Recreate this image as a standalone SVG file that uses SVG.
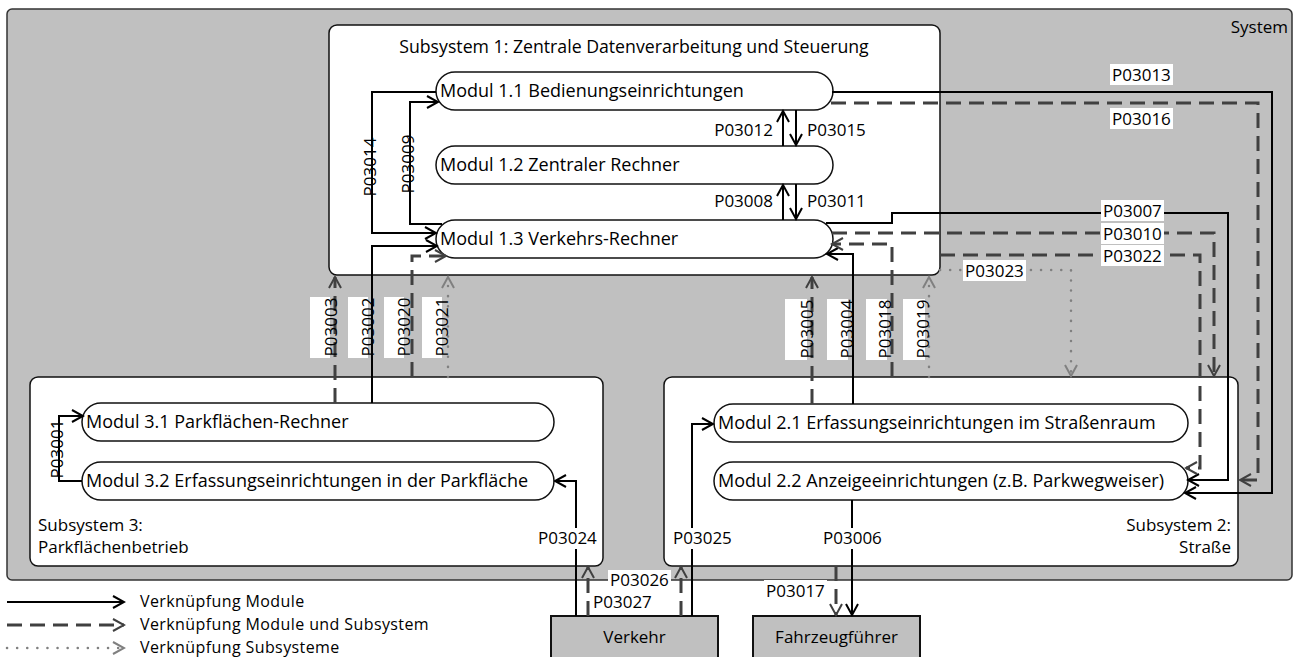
<svg xmlns="http://www.w3.org/2000/svg" width="1301" height="657" viewBox="0 0 1301 657">
  <style>
    text { font-family: "Open Sans", "Noto Sans", "Liberation Sans", sans-serif; font-size: 17px; fill: #000; }
    .mod { font-size: 18px; }
    .big { font-size: 17.7px; }
    .leg { font-size: 16px; letter-spacing: 0.4px; }
    .system { fill: #c0c0c0; stroke: #333; stroke-width: 1.5; }
    .subsys { fill: #fff; stroke: #111; stroke-width: 1.5; }
    .module { fill: #fff; stroke: #111; stroke-width: 1.5; }
    .actor { fill: #c0c0c0; stroke: #111; stroke-width: 2; }
    .bg { fill: #fff; }
    .solid { fill: none; stroke: #000; stroke-width: 2; marker-end: url(#arrSolid); }
    .dashed { fill: none; stroke: #404040; stroke-width: 3; stroke-dasharray: 15 8; marker-end: url(#arrDashed); }
    .dotted { fill: none; stroke: #808080; stroke-width: 2.5; stroke-dasharray: 0.1 10; stroke-linecap: round; marker-end: url(#arrDotted); }
    .mid { text-anchor: middle; }
    .end { text-anchor: end; }
  </style>
  <defs>
    <marker id="arrSolid" markerUnits="userSpaceOnUse" markerWidth="14" markerHeight="14" viewBox="0 0 14 14" refX="12" refY="7" orient="auto">
      <path d="M1,1 L12,7 L1,13" fill="none" stroke="#000" stroke-width="2"/>
    </marker>
    <marker id="arrDashed" markerUnits="userSpaceOnUse" markerWidth="14" markerHeight="14" viewBox="0 0 14 14" refX="12" refY="7" orient="auto">
      <path d="M1,1 L12,7 L1,13" fill="none" stroke="#404040" stroke-width="2"/>
    </marker>
    <marker id="arrDotted" markerUnits="userSpaceOnUse" markerWidth="14" markerHeight="14" viewBox="0 0 14 14" refX="12" refY="7" orient="auto">
      <path d="M1,1 L12,7 L1,13" fill="none" stroke="#808080" stroke-width="2"/>
    </marker>
  </defs>

  <rect width="1301" height="657" fill="#fff"/>

  <!-- outer system frame -->
  <g id="system">
    <rect class="system" x="7" y="9" width="1285" height="571" rx="5"/>
    <text class="end" x="1288" y="33">System</text>
  </g>

  <!-- Subsystem 1 -->
  <g id="subsystem1">
    <rect class="subsys" x="329" y="25" width="611" height="250" rx="8"/>
    <text class="mid big" x="634" y="53">Subsystem 1: Zentrale Datenverarbeitung und Steuerung</text>
  </g>
  <g id="modul11">
    <rect class="module" x="436" y="72" width="397" height="38" rx="19"/>
    <text class="mod" x="440" y="97">Modul 1.1 Bedienungseinrichtungen</text>
  </g>
  <g id="modul12">
    <rect class="module" x="436" y="146" width="397" height="38" rx="19"/>
    <text class="mod" x="440" y="171">Modul 1.2 Zentraler Rechner</text>
  </g>
  <g id="modul13">
    <rect class="module" x="436" y="220" width="397" height="38" rx="19"/>
    <text class="mod" x="440" y="245">Modul 1.3 Verkehrs-Rechner</text>
  </g>

  <!-- Subsystem 3 -->
  <g id="subsystem3">
    <rect class="subsys" x="30" y="377" width="573" height="189" rx="8"/>
    <text x="38" y="531">Subsystem 3:</text>
    <text x="38" y="553">Parkflächenbetrieb</text>
  </g>
  <g id="modul31">
    <rect class="module" x="82" y="403" width="472" height="38" rx="19"/>
    <text class="mod" x="86" y="428">Modul 3.1 Parkflächen-Rechner</text>
  </g>
  <g id="modul32">
    <rect class="module" x="82" y="462" width="472" height="38" rx="19"/>
    <text class="mod" x="86" y="487">Modul 3.2 Erfassungseinrichtungen in der Parkfläche</text>
  </g>

  <!-- Subsystem 2 -->
  <g id="subsystem2">
    <rect class="subsys" x="664" y="377" width="574" height="189" rx="8"/>
    <text class="end" x="1231" y="531">Subsystem 2:</text>
    <text class="end" x="1231" y="553">Straße</text>
  </g>
  <g id="modul21">
    <rect class="module" x="714" y="404" width="474" height="38" rx="19"/>
    <text class="mod" x="718" y="429">Modul 2.1 Erfassungseinrichtungen im Straßenraum</text>
  </g>
  <g id="modul22">
    <rect class="module" x="714" y="462" width="474" height="38" rx="19"/>
    <text class="mod" x="718" y="487">Modul 2.2 Anzeigeeinrichtungen (z.B. Parkwegweiser)</text>
  </g>

  <!-- external actors -->
  <g id="verkehr">
    <rect class="actor" x="551" y="616" width="167" height="60"/>
    <text class="mid" x="634.5" y="643">Verkehr</text>
  </g>
  <g id="fahrzeugfuehrer">
    <rect class="actor" x="753" y="616" width="167" height="60"/>
    <text class="mid" x="836.5" y="643">Fahrzeugführer</text>
  </g>

  <!-- connectors -->
  <g id="connectors">
    <!-- inside subsystem 1 -->
    <path class="solid" d="M436,92 H372 V233 H436"/>
    <path class="solid" d="M442,224 H410 V102 H438"/>
    <path class="solid" d="M783,146 V111"/>
    <path class="solid" d="M796,110 V145"/>
    <path class="solid" d="M783,220 V185"/>
    <path class="solid" d="M796,184 V219"/>

    <!-- subsystem 3 to subsystem 1 -->
    <path class="dashed" d="M335,403 V277"/>
    <path class="solid" d="M372,403 V246 H437"/>
    <path class="dashed" d="M412,377 V256 H446"/>
    <path class="dotted" d="M448,377 V277"/>

    <!-- subsystem 2 to subsystem 1 -->
    <path class="dashed" d="M812,404 V277"/>
    <path class="solid" d="M853,404 V254 H827"/>
    <path class="dashed" d="M892,377 V244 H832"/>
    <path class="dotted" d="M929,377 V277"/>

    <!-- subsystem 1 to subsystem 2 -->
    <path class="solid" d="M832,92 H1272 V493 H1185"/>
    <path class="dashed" d="M831,103 H1258 V480 H1240"/>
    <path class="solid" d="M826,223 H892 V213 H1228 V480 H1188"/>
    <path class="dashed" d="M832,233 H1214 V376"/>
    <path class="dashed" d="M940,255 H1200 V468 H1186"/>
    <path class="dotted" d="M940,270 H1071 V376"/>

    <!-- inside subsystem 3 -->
    <path class="solid" d="M82,481 H59 V416 H83"/>

    <!-- traffic and driver -->
    <path class="solid" d="M576,616 V481 H555"/>
    <path class="dashed" d="M588,616 V567"/>
    <path class="dashed" d="M681,616 V567"/>
    <path class="solid" d="M692,616 V424 H713"/>
    <path class="solid" d="M852,500 V615"/>
    <path class="dashed" d="M836,566 V615"/>
  </g>

  <!-- connector labels -->
  <g id="labels">
    <text class="end" x="773" y="136">P03012</text>
    <text x="807" y="136">P03015</text>
    <text class="end" x="773" y="207">P03008</text>
    <text x="807" y="207">P03011</text>

    <text transform="translate(376,167) rotate(-90)" class="mid">P03014</text>
    <text transform="translate(414,164) rotate(-90)" class="mid">P03009</text>

    <rect class="bg" x="310" y="297" width="20" height="61"/>
    <rect class="bg" x="348" y="297" width="20" height="61"/>
    <rect class="bg" x="384" y="297" width="20" height="61"/>
    <rect class="bg" x="422" y="297" width="20" height="61"/>
    <text transform="translate(337,327) rotate(-90)" class="mid">P03003</text>
    <text transform="translate(374,327) rotate(-90)" class="mid">P03002</text>
    <text transform="translate(410,327) rotate(-90)" class="mid">P03020</text>
    <text transform="translate(448,327) rotate(-90)" class="mid">P03021</text>

    <rect class="bg" x="785" y="299" width="22" height="61"/>
    <rect class="bg" x="827" y="299" width="21" height="61"/>
    <rect class="bg" x="866" y="299" width="21" height="61"/>
    <rect class="bg" x="903" y="299" width="22" height="61"/>
    <text transform="translate(813,329) rotate(-90)" class="mid">P03005</text>
    <text transform="translate(853,329) rotate(-90)" class="mid">P03004</text>
    <text transform="translate(891,329) rotate(-90)" class="mid">P03018</text>
    <text transform="translate(929,329) rotate(-90)" class="mid">P03019</text>

    <text transform="translate(63,449) rotate(-90)" class="mid">P03001</text>

    <rect class="bg" x="1110" y="64" width="63" height="21"/>
    <text x="1112" y="81">P03013</text>
    <rect class="bg" x="1110" y="108" width="63" height="21"/>
    <text x="1112" y="125">P03016</text>
    <rect class="bg" x="1101" y="200" width="63" height="21"/>
    <text x="1103" y="217">P03007</text>
    <rect class="bg" x="1101" y="223" width="63" height="21"/>
    <text x="1103" y="240">P03010</text>
    <rect class="bg" x="1101" y="245" width="63" height="21"/>
    <text x="1103" y="262">P03022</text>
    <rect class="bg" x="963" y="260" width="63" height="21"/>
    <text x="965" y="277">P03023</text>

    <rect class="bg" x="536" y="528" width="64" height="21"/>
    <text x="538" y="544">P03024</text>
    <rect class="bg" x="671" y="528" width="64" height="21"/>
    <text x="673" y="544">P03025</text>
    <rect class="bg" x="821" y="528" width="64" height="21"/>
    <text x="823" y="544">P03006</text>
    <rect class="bg" x="608" y="570" width="63" height="20"/>
    <text x="610" y="586">P03026</text>
    <rect class="bg" x="591" y="592" width="63" height="20"/>
    <text x="593" y="608">P03027</text>
    <rect class="bg" x="764" y="580" width="63" height="20"/>
    <text x="766" y="597">P03017</text>
  </g>

  <!-- legend -->
  <g id="legend">
    <path class="solid" d="M7,602 H124"/>
    <text class="leg" x="140" y="607">Verknüpfung Module</text>
    <path class="dashed" d="M7,625 H124"/>
    <text class="leg" x="140" y="630">Verknüpfung Module und Subsystem</text>
    <path class="dotted" d="M7,648 H124"/>
    <text class="leg" x="140" y="653">Verknüpfung Subsysteme</text>
  </g>
</svg>
